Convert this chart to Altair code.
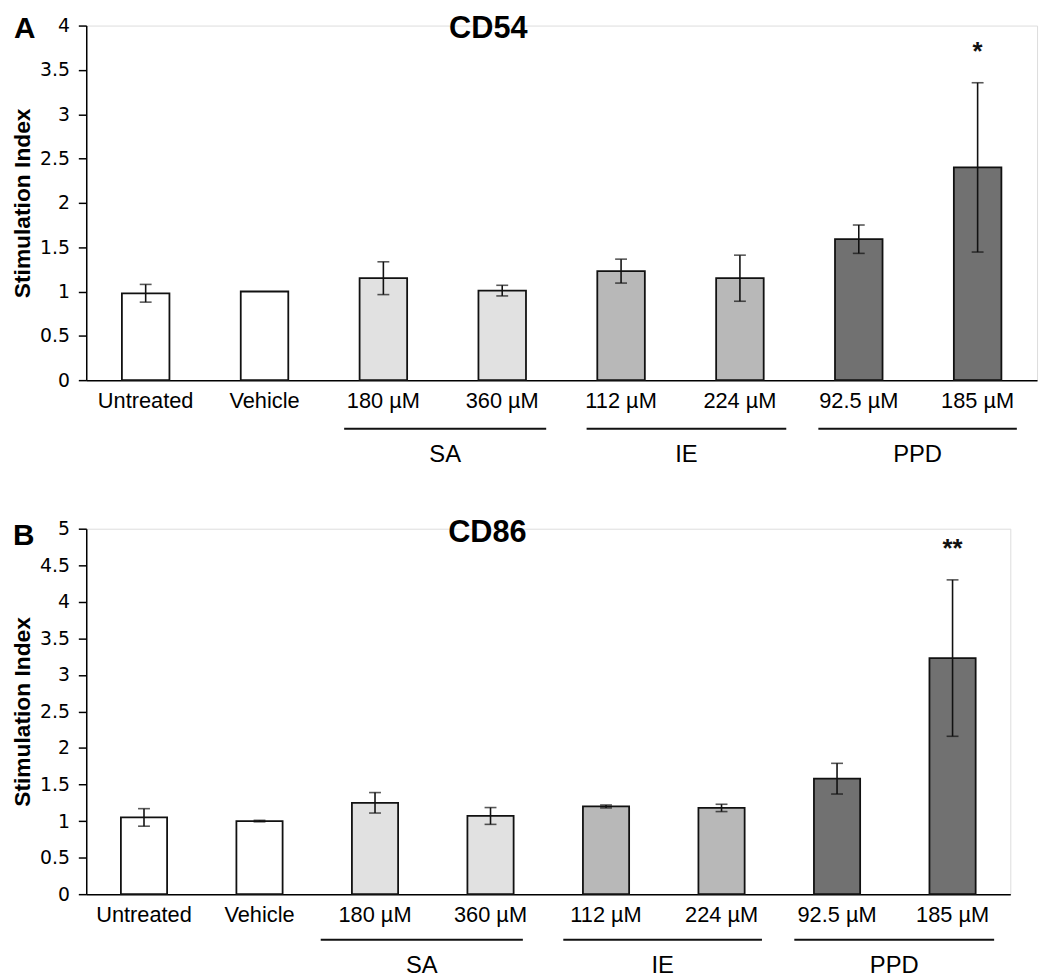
import altair as alt
import pandas as pd

# ---------------- data ----------------
categories = ["Untreated", "Vehicle", "180 µM", "360 µM", "112 µM", "224 µM", "92.5 µM", "185 µM"]
treatment = ["Control", "Control", "SA", "SA", "IE", "IE", "PPD", "PPD"]

cd54_mean = [0.98, 1.00, 1.15, 1.01, 1.23, 1.15, 1.59, 2.40]
cd54_err = [0.10, 0.00, 0.185, 0.06, 0.135, 0.26, 0.16, 0.955]
cd54_sig = ["", "", "", "", "", "", "", "*"]

cd86_mean = [1.05, 1.00, 1.25, 1.07, 1.20, 1.18, 1.58, 3.23]
cd86_err = [0.12, 0.01, 0.14, 0.115, 0.02, 0.05, 0.21, 1.07]
cd86_sig = ["", "", "", "", "", "", "", "**"]

group_names = ["SA", "IE", "PPD"]
group_first = ["180 µM", "112 µM", "92.5 µM"]
group_last = ["360 µM", "224 µM", "185 µM"]

ticks_a = [0, 0.5, 1, 1.5, 2, 2.5, 3, 3.5, 4]
ticks_b = [0, 0.5, 1, 1.5, 2, 2.5, 3, 3.5, 4, 4.5, 5]

treat_domain = ["Control", "SA", "IE", "PPD"]
treat_colors = ["#ffffff", "#e1e1e1", "#b8b8b8", "#717171"]

TICK_FONT = "DejaVu Sans"
SANS = "Liberation Sans"
YTITLE = "Stimulation Index"


def panel(letter, title, mean, err, sig, ymax, ticks, width, height, lay):
    df = pd.DataFrame({
        "category": categories,
        "treatment": treatment,
        "mean": mean,
        "err": err,
        "sig": sig,
    })
    df["lo"] = df["mean"] - df["err"]
    df["hi"] = df["mean"] + df["err"]

    step = width / len(categories)
    xscale = alt.Scale(domain=categories, paddingInner=0, paddingOuter=0)
    yscale = alt.Scale(domain=[0, ymax], nice=False, zero=True)
    xaxis = alt.Axis(labelAngle=0, ticks=False, labelPadding=11,
                     labelFont=SANS, labelFontSize=22, labelColor="#000000",
                     labelOverlap=False, labelLimit=300,
                     domainColor="#000000", domainWidth=1.5, title=None)
    yaxis = alt.Axis(values=ticks, format="~g", grid=False,
                     tickSize=8, tickColor="#000000", tickWidth=1.5,
                     domainColor="#000000", domainWidth=1.5,
                     labelFont=TICK_FONT, labelFontSize=19, labelColor="#000000",
                     labelPadding=9, title=YTITLE,
                     titleFont=SANS, titleFontSize=23, titleFontWeight="bold",
                     titleColor="#000000", titlePadding=5)

    def X(field, **kw):
        return alt.X(field, type="nominal", sort=categories, scale=xscale, axis=xaxis,
                     title=None, **kw)

    def Y(field):
        return alt.Y(field, type="quantitative", scale=yscale, axis=yaxis, title=YTITLE)

    base = alt.Chart(df)

    bars = base.mark_bar(
        width=alt.RelativeBandSize(0.4), stroke="#111111", strokeWidth=1.8
    ).encode(
        x=X("category"),
        y=Y("mean"),
        fill=alt.Fill("treatment:N", scale=alt.Scale(domain=treat_domain, range=treat_colors),
                      legend=None),
    )

    eb = base.transform_filter("datum.err > 0")
    err_rule = eb.mark_rule(color="#111111", strokeWidth=1.6).encode(
        x=X("category"), y=Y("lo"), y2="hi:Q")
    cap_lo = eb.mark_tick(color="#111111", size=12, thickness=1.6).encode(
        x=X("category"), y=Y("lo"))
    cap_hi = eb.mark_tick(color="#111111", size=12, thickness=1.6).encode(
        x=X("category"), y=Y("hi"))

    stars = base.mark_text(font=SANS, fontSize=26, fontWeight="bold", dy=-23,
                           baseline="alphabetic", color="#111111").encode(
        x=X("category"), y=Y("hi"), text="sig:N")

    layers = [bars, err_rule, cap_lo, cap_hi, stars]

    for name, first, last, (s, e) in zip(group_names, group_first, group_last, lay["spans"]):
        gdf = pd.DataFrame({"name": [name], "first": [first], "last": [last]})
        g = alt.Chart(gdf)
        line = g.mark_rule(color="#111111", strokeWidth=2).encode(
            x=X("first", bandPosition=s),
            x2=alt.X2(field="last", bandPosition=e),
            y=alt.value(height + lay["line_dy"]),
        )
        mid = (s + e - 1) / 2  # midpoint of the line, in band units of the last category
        bp = min(max(mid, 0.0), 1.0)
        lab = g.mark_text(font=SANS, fontSize=24, color="#000000",
                          baseline="alphabetic", align="center",
                          dx=(mid - bp) * step).encode(
            x=X("last", bandPosition=bp),
            y=alt.value(height + lay["label_dy"]),
            text="name:N",
        )
        layers += [line, lab]

    letter_mark = alt.Chart(pd.DataFrame({"t": [letter]})).mark_text(
        font=SANS, fontSize=30, fontWeight="bold", align="left",
        baseline=lay["head_baseline"], color="#000000").encode(
        x=alt.value(lay["letter_x"]), y=alt.value(lay["letter_y"]), text="t:N")
    title_mark = alt.Chart(pd.DataFrame({"t": [title]})).mark_text(
        font=SANS, fontSize=31, fontWeight="bold", align="center",
        baseline=lay["head_baseline"], color="#000000").encode(
        x=alt.value(lay["title_x"]), y=alt.value(lay["title_y"]), text="t:N")
    layers += [letter_mark, title_mark]

    return alt.layer(*layers).properties(width=width, height=height)


layout_a = {
    "spans": [(0.17, 0.87), (0.21, 0.89), (0.16, 0.83)],
    "line_dy": 49, "label_dy": 83,
    "head_baseline": "top",
    "letter_x": -73, "letter_y": -11,
    "title_x": 406, "title_y": -11,
}
layout_b = {
    "spans": [(0.03, 0.78), (0.13, 0.85), (0.13, 0.86)],
    "line_dy": 46, "label_dy": 80,
    "head_baseline": "alphabetic",
    "letter_x": -74, "letter_y": 16,
    "title_x": 405, "title_y": 13,
}

pa = panel("A", "CD54", cd54_mean, cd54_err, cd54_sig, 4, ticks_a, 960, 358, layout_a)
pb = panel("B", "CD86", cd86_mean, cd86_err, cd86_sig, 5, ticks_b, 933, 369, layout_b)

chart = alt.vconcat(pa, pb, spacing=150, bounds="flush").properties(
    padding={"left": 3, "top": 0, "right": 4, "bottom": 4}
).configure_view(stroke="transparent", strokeWidth=0).configure(background="#ffffff")

chart.save("out.html", embed_options={"renderer": "svg", "actions": False})
